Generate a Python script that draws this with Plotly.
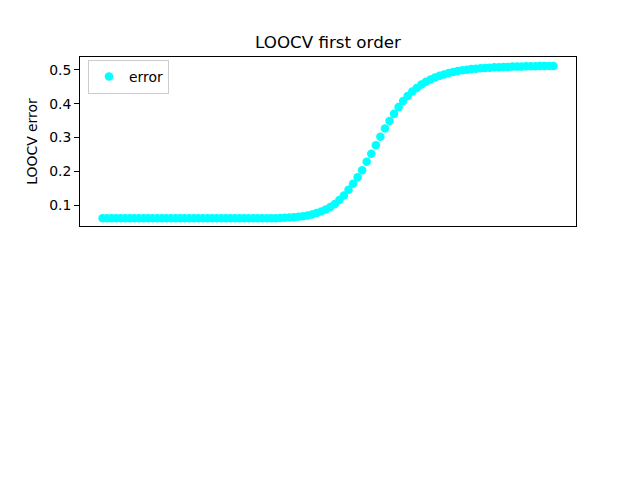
import plotly.graph_objects as go

index = list(range(100))
error = [0.061] * 39 + [
    0.0615, 0.062, 0.063, 0.064, 0.065, 0.067, 0.069, 0.072, 0.076, 0.081,  # 39-48
    0.087, 0.094, 0.103, 0.115, 0.128, 0.145, 0.163, 0.182, 0.203, 0.228,  # 49-58
    0.252, 0.277, 0.302, 0.327, 0.349, 0.370, 0.390, 0.408, 0.423, 0.436,  # 59-68
    0.447, 0.457, 0.465, 0.472, 0.478, 0.483, 0.487, 0.491, 0.494, 0.497,  # 69-78
    0.499, 0.501, 0.503, 0.504, 0.505, 0.506, 0.507, 0.508, 0.508, 0.509,  # 79-88
    0.509, 0.510, 0.510, 0.510, 0.511, 0.511, 0.511, 0.512, 0.512, 0.512,  # 89-98
    0.512,
]
yticks = [0.1, 0.2, 0.3, 0.4, 0.5]

fig = go.Figure()
fig.add_trace(go.Scatter(
    x=index, y=error, mode="markers", name="error",
    marker=dict(color="#00FFFF", size=8.5, line=dict(width=0)),
    showlegend=True,
))

font = "DejaVu Sans"
fig.update_layout(
    width=640, height=480,
    margin=dict(l=80, r=64, t=57, b=254),
    paper_bgcolor="white", plot_bgcolor="white",
    font=dict(family=font, size=13.9, color="black"),
    title=dict(text="LOOCV first order", x=0.5, xref="paper", xanchor="center",
               y=1 - 42 / 480, yref="container", yanchor="middle",
               font=dict(family=font, size=16.7, color="black")),
    showlegend=True,
    legend=dict(x=8 / 496, y=(226 - 60) / 169, xanchor="left", yanchor="top",
                bgcolor="white", bordercolor="#cccccc", borderwidth=1,
                font=dict(family=font, size=13.9), itemwidth=30),
)
fig.update_xaxes(range=[-4.95, 103.95], showticklabels=False, ticks="",
                 showgrid=False, zeroline=False, showline=True, mirror=True,
                 linecolor="black", linewidth=1)
fig.update_yaxes(range=[0.0378, 0.5385], tickvals=yticks,
                 ticktext=[f"{v:.1f}" for v in yticks], ticks="outside",
                 ticklen=5, tickwidth=1, tickcolor="black",
                 showgrid=False, zeroline=False, showline=True, mirror=True,
                 linecolor="black", linewidth=1,
                 title=dict(text="LOOCV error", standoff=8,
                            font=dict(family=font, size=13.9)))
fig.write_html("out.html")
